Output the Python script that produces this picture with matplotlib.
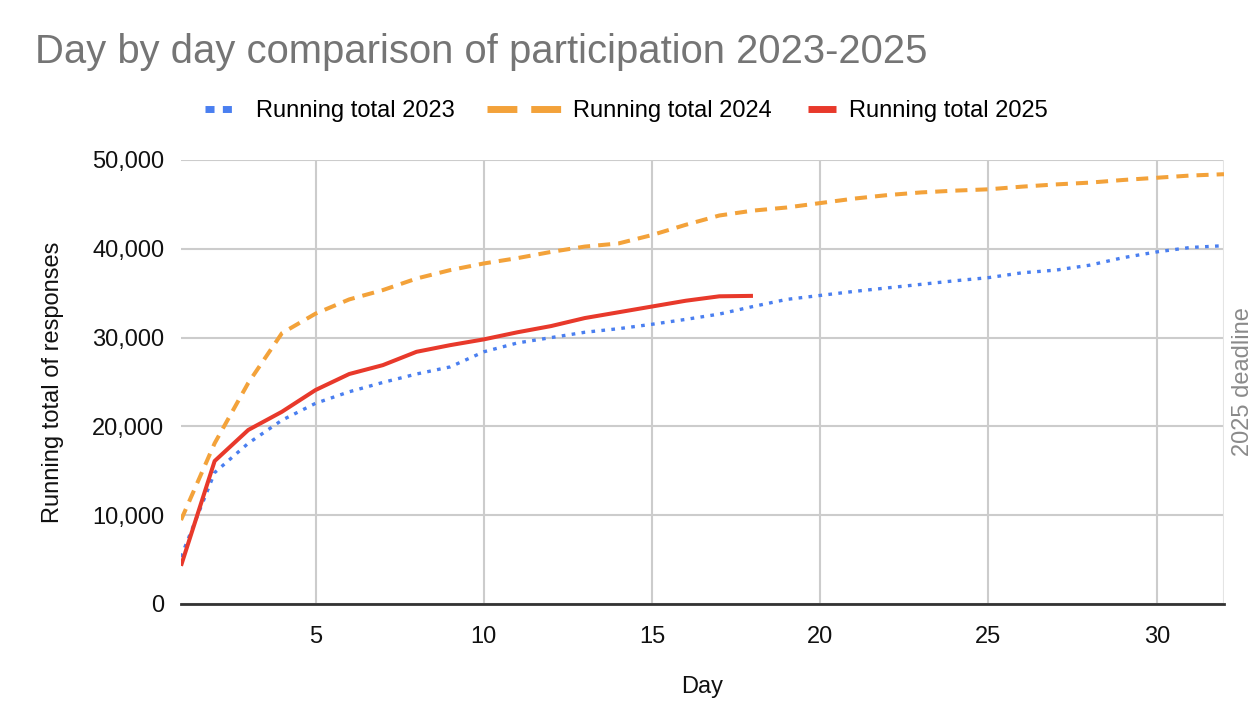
import matplotlib
matplotlib.use("Agg")
import matplotlib.pyplot as plt
from matplotlib.lines import Line2D
from matplotlib.ticker import FuncFormatter, MultipleLocator

plt.rcParams['font.family'] = ['Liberation Sans', 'DejaVu Sans']

# ---------- data ----------
days_2023 = list(range(1, 33))
total_2023 = [5300, 14800, 18100, 20700, 22600, 23900, 24950, 25900, 26700, 28400,
              29400, 30000, 30600, 31000, 31500, 32050, 32650, 33500, 34300, 34750,
              35200, 35600, 36000, 36400, 36750, 37300, 37600, 38150, 39000, 39650,
              40150, 40350]
days_2024 = list(range(1, 33))
total_2024 = [9450, 18100, 24900, 30500, 32700, 34300, 35350, 36650, 37600, 38350,
              38950, 39650, 40250, 40600, 41550, 42700, 43750, 44300, 44650, 45150,
              45650, 46050, 46350, 46550, 46700, 47000, 47250, 47450, 47750, 48000,
              48250, 48400]
days_2025 = list(range(1, 19))
total_2025 = [4300, 16100, 19600, 21650, 24100, 25900, 26900, 28400, 29150, 29800,
              30600, 31300, 32200, 32850, 33500, 34150, 34650, 34700]
deadline_day = 32

BLUE, ORANGE, RED = "#4a7ff0", "#f3a23a", "#e8392b"
GREY_TXT = "#757575"
FS = 17

fig = plt.figure(figsize=(12.6, 7.26), dpi=100)
ax = fig.add_axes([181 / 1260, 1 - 604 / 726, (1224 - 181) / 1260, (604 - 160) / 726])

ax.plot(days_2023, total_2023, color=BLUE, lw=2.4, dashes=(1.1, 1.9),
        dash_capstyle="butt", zorder=3)
ax.plot(days_2024, total_2024, color=ORANGE, lw=2.9, dashes=(3.0, 2.0),
        dash_capstyle="butt", zorder=3)
ax.plot(days_2025, total_2025, color=RED, lw=2.9, solid_capstyle="butt", zorder=4)

ax.axvline(deadline_day, color="#e4e4e4", lw=1.5, zorder=1)
ax.text(1.018, 0.5, "2025 deadline", transform=ax.transAxes, rotation=90,
        ha="center", va="center", color="#8a8a8a", fontsize=FS)

ax.set_xlim(1, 32)
ax.set_ylim(0, 50000)
ax.xaxis.set_major_locator(MultipleLocator(5))
ax.yaxis.set_major_locator(MultipleLocator(10000))
ax.yaxis.set_major_formatter(FuncFormatter(lambda v, _: f"{int(v):,}"))
ax.grid(True, color="#cccccc", lw=1.5, zorder=0)
ax.set_axisbelow(True)
for s in ("top", "right", "left"):
    ax.spines[s].set_visible(False)
ax.spines["bottom"].set_color("#333333")
ax.spines["bottom"].set_linewidth(2)
ax.tick_params(length=0, labelsize=FS, colors="#111111", pad=12)
ax.tick_params(axis="x", pad=16)

ax.set_xlabel("Day", fontsize=FS, color="#111111", labelpad=20)
ax.set_ylabel("Running total of responses", fontsize=FS, color="#111111", labelpad=20)

fig.text(35 / 1260, 1 - 52 / 726, "Day by day comparison of participation 2023-2025",
         ha="left", va="center", fontsize=28.8, color=GREY_TXT)

# legend: one entry per box so each swatch can have its own length, like the original
entries = [
    (Line2D([], [], color=BLUE, lw=5, dashes=(1.3, 1.2), dash_capstyle="butt"),
     "Running total 2023", 205, 1.3, 0.85),
    (Line2D([], [], color=ORANGE, lw=5, dashes=(4.3, 2.0), dash_capstyle="butt"),
     "Running total 2024", 487, 3.2, 0.45),
    (Line2D([], [], color=RED, lw=5, solid_capstyle="butt"),
     "Running total 2025", 808, 1.2, 0.55),
]
for handle, label, x0, hl, pad in entries:
    fig.legend([handle], [label], loc="center left",
               bbox_to_anchor=(x0 / 1260, 1 - 111 / 726), frameon=False,
               fontsize=FS, handlelength=hl, handletextpad=pad,
               borderpad=0, borderaxespad=0)

fig.savefig("out.png", dpi=100)
